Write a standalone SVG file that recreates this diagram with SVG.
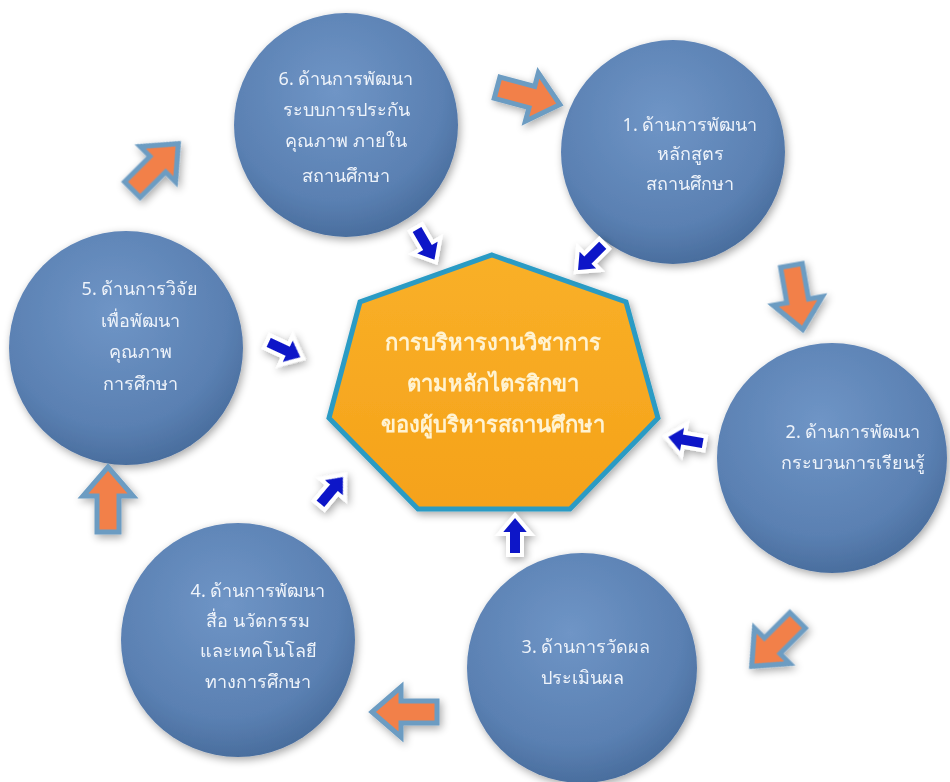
<svg xmlns="http://www.w3.org/2000/svg" xmlns:xlink="http://www.w3.org/1999/xlink" width="950" height="782" viewBox="0 0 950 782">
<style>
.ct{font-family:"Noto Sans","DejaVu Sans",sans-serif;font-size:18px;fill:#EEF3FA;text-anchor:middle}
.hx{font-family:"Noto Sans","DejaVu Sans",sans-serif;font-size:22px;font-weight:bold;fill:#FFF3D2;text-anchor:middle}
</style>
<defs>
<radialGradient id="cg" cx="0.45" cy="0.35" r="0.65">
<stop offset="0" stop-color="#6F95C6"/>
<stop offset="0.75" stop-color="#5A80B2"/>
<stop offset="1" stop-color="#4A6E9E"/>
</radialGradient>
<linearGradient id="og" x1="0" y1="0" x2="0" y2="1">
<stop offset="0" stop-color="#F9B028"/>
<stop offset="1" stop-color="#F5A21A"/>
</linearGradient>
<filter id="sh" x="-20%" y="-20%" width="140%" height="140%">
<feGaussianBlur in="SourceAlpha" stdDeviation="4"/>
<feOffset dx="2" dy="3" result="b"/>
<feComponentTransfer><feFuncA type="linear" slope="0.35"/></feComponentTransfer>
<feMerge><feMergeNode/><feMergeNode in="SourceGraphic"/></feMerge>
</filter>
<polygon id="oa" points="-32,-11 4,-11 4,-25 33,0 4,25 4,11 -32,11" fill="#F2804A" stroke="#6C9CC2" stroke-width="5" stroke-linejoin="miter"/>
<polygon id="ba" points="-20,-7 1,-7 1,-16 20,0 1,16 1,7 -20,7" fill="#0E18C8" stroke="#FFFFFF" stroke-width="4" stroke-linejoin="miter"/>
</defs>
<rect width="950" height="782" fill="#FFFFFF"/>

<g id="center" filter="url(#sh)">
<polygon points="492,255 626,302 658,418 570,509 418,509 329,418 360,302" fill="url(#og)" stroke="#2C9BC4" stroke-width="5" stroke-linejoin="miter"/>
<text class="hx" x="493" y="350">การบริหารงานวิชาการ</text>
<text class="hx" x="493" y="391">ตามหลักไตรสิกขา</text>
<text class="hx" x="493" y="432">ของผู้บริหารสถานศึกษา</text>
</g>

<g id="node6" filter="url(#sh)">
<circle cx="346" cy="125" r="112" fill="url(#cg)"/>
<text class="ct" x="346" y="85">6. ด้านการพัฒนา</text>
<text class="ct" x="346" y="116">ระบบการประกัน</text>
<text class="ct" x="346" y="147">คุณภาพ ภายใน</text>
<text class="ct" x="346" y="182">สถานศึกษา</text>
</g>

<g id="node1" filter="url(#sh)">
<circle cx="673" cy="152" r="112" fill="url(#cg)"/>
<text class="ct" x="690" y="131">1. ด้านการพัฒนา</text>
<text class="ct" x="690" y="160">หลักสูตร</text>
<text class="ct" x="690" y="190">สถานศึกษา</text>
</g>

<g id="node2" filter="url(#sh)">
<circle cx="832" cy="458" r="115" fill="url(#cg)"/>
<text class="ct" x="853" y="438">2. ด้านการพัฒนา</text>
<text class="ct" x="853" y="469">กระบวนการเรียนรู้</text>
</g>

<g id="node3" filter="url(#sh)">
<circle cx="582" cy="668" r="115" fill="url(#cg)"/>
<text class="ct" x="586" y="653">3. ด้านการวัดผล</text>
<text class="ct" x="582" y="684">ประเมินผล</text>
</g>

<g id="node4" filter="url(#sh)">
<circle cx="238" cy="640" r="117" fill="url(#cg)"/>
<text class="ct" x="258" y="597">4. ด้านการพัฒนา</text>
<text class="ct" x="258" y="627">สื่อ นวัตกรรม</text>
<text class="ct" x="258" y="657">และเทคโนโลยี</text>
<text class="ct" x="258" y="688">ทางการศึกษา</text>
</g>

<g id="node5" filter="url(#sh)">
<circle cx="126" cy="348" r="117" fill="url(#cg)"/>
<text class="ct" x="140" y="295">5. ด้านการวิจัย</text>
<text class="ct" x="140" y="327">เพื่อพัฒนา</text>
<text class="ct" x="140" y="358">คุณภาพ</text>
<text class="ct" x="140" y="390">การศึกษา</text>
</g>

<g id="connectors" filter="url(#sh)">
<use xlink:href="#oa" transform="translate(528,96) rotate(15)"/>
<use xlink:href="#oa" transform="translate(797,297) rotate(80)"/>
<use xlink:href="#oa" transform="translate(775,643) rotate(135)"/>
<use xlink:href="#oa" transform="translate(405,712) rotate(180)"/>
<use xlink:href="#oa" transform="translate(108,500) rotate(-90)"/>
<use xlink:href="#oa" transform="translate(155,167) rotate(-45)"/>
<use xlink:href="#ba" transform="translate(426,245) rotate(60)"/>
<use xlink:href="#ba" transform="translate(590,258) rotate(135)"/>
<use xlink:href="#ba" transform="translate(685,440) rotate(190)"/>
<use xlink:href="#ba" transform="translate(515,535) rotate(-90)"/>
<use xlink:href="#ba" transform="translate(332,490) rotate(-50)"/>
<use xlink:href="#ba" transform="translate(285,350) rotate(25)"/>
</g>
</svg>
